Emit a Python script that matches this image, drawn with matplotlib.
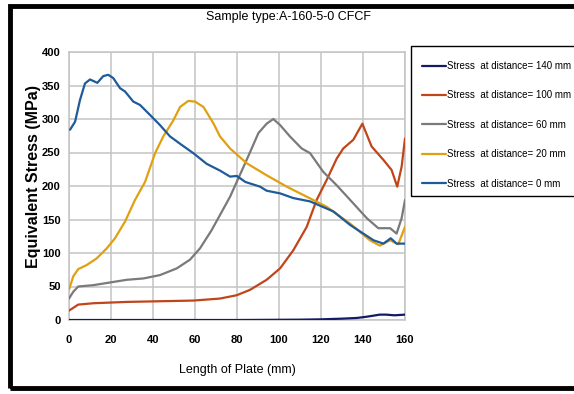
import matplotlib
matplotlib.use('Agg')
import matplotlib.pyplot as plt
from matplotlib.patches import Rectangle

SANS = ['Liberation Sans', 'DejaVu Sans']

# stress along the plate length (mm -> MPa), one series per distance
x_0 = [0.5, 2.9, 5.2, 7.6, 10, 13.5, 16.3, 18.7, 21.1, 24.3, 26.7, 30.6, 33.8,
       38.6, 43.3, 48.1, 52.9, 59.2, 65.6, 71.9, 76.7, 79.9, 84, 91, 94.1,
       100.5, 106.8, 114.8, 125.9, 133.8, 145, 149.7, 153.2, 156, 160]
s_0 = [284, 296, 328, 353, 359, 354, 364, 366, 361, 346, 341, 326, 321,
       306, 291, 274, 263, 249, 233, 223, 214, 215, 206, 199, 193,
       189, 182, 177, 162, 142, 119, 114, 122, 114, 114]

x_20 = [0.1, 2, 4.4, 8.4, 13.2, 18, 21.9, 26.7, 31.4, 36.2, 41, 44.9, 49.7,
        52.9, 56.8, 60, 64, 68.7, 71.9, 76.7, 84.6, 94.1, 103.7, 113.2,
        122.7, 133.8, 143.3, 148, 152.9, 156.8, 160]
s_20 = [46, 65, 76, 82, 92, 107, 122, 147, 179, 206, 249, 274, 298,
        318, 327, 326, 318, 294, 274, 256, 234, 216, 199, 184,
        169, 144, 119, 111, 119, 113, 139]

x_60 = [0, 2, 4.4, 11.6, 19.5, 27.5, 35.4, 43.3, 51.3, 57.6, 62.4, 67.9,
        76.7, 84.6, 90.2, 94.1, 97.3, 100.5, 105.2, 110.8, 114.8, 121.1,
        127.5, 135.4, 141.8, 147.3, 152.9, 156, 158.4, 160]
s_60 = [32, 42, 50, 52, 56, 60, 62, 67, 77, 90, 107, 134,
        184, 239, 279, 293, 300, 291, 274, 256, 249, 221,
        201, 174, 152, 137, 137, 129, 152, 179]

x_100 = [0, 4.4, 11.6, 27.5, 43.3, 59.2, 71.9, 79.9, 86.2, 94.1, 100.5,
         106.8, 113.2, 117.9, 122.7, 127.5, 130.6, 135.4, 139.7, 144.1,
         149.7, 153.6, 156.3, 158.4, 160]
s_100 = [14, 23, 25, 27, 28, 29, 32, 37, 45, 60, 77,
         104, 139, 179, 209, 241, 256, 269, 293, 259,
         239, 224, 199, 229, 271]

x_140 = [0, 40, 80, 110, 120, 130, 137, 142, 148, 151, 155, 160]
s_140 = [0, 0, 0, 0.5, 1, 2, 3, 5, 8, 8, 7, 8]

series = [
    (x_140, s_140, 'Stress  at distance= 140 mm', '#141a66'),
    (x_100, s_100, 'Stress  at distance= 100 mm', '#c0461a'),
    (x_60, s_60, 'Stress  at distance= 60 mm', '#7a7a7a'),
    (x_20, s_20, 'Stress  at distance= 20 mm', '#e0a010'),
    (x_0, s_0, 'Stress  at distance= 0 mm', '#1f5b99'),
]

W, H = 574, 394
fig = plt.figure(figsize=(W / 100, H / 100), dpi=100)
ax = fig.add_axes([69 / W, 1 - 320 / H, 336 / W, 268 / H])

for xs, ys, label, color in series:
    ax.plot(xs, ys, color=color, linewidth=1.6, label=label,
            solid_capstyle='round', zorder=3)

ax.set_xlim(0, 160)
ax.set_ylim(0, 400)
ax.set_xticks(range(0, 161, 20))
ax.set_yticks(range(0, 401, 50))
ax.grid(True, color='#c4c4c4', linewidth=1.1)
ax.set_axisbelow(True)
for sp in ax.spines.values():
    sp.set_color('#c4c4c4')
    sp.set_linewidth(1.1)
ax.tick_params(axis='x', length=0, pad=11)
ax.tick_params(axis='y', length=0, pad=6)
for lab in ax.get_xticklabels() + ax.get_yticklabels():
    lab.set_family(SANS)
    lab.set_fontweight('bold')
    lab.set_fontsize(8)

ax.set_xlabel('Length of Plate (mm)', family=SANS, fontsize=9)
ax.xaxis.set_label_coords(0.5, -0.165)
ax.set_ylabel('Equivalent Stress (MPa)', family=SANS, fontsize=11.5,
              fontweight='bold')
ax.yaxis.set_label_coords(-0.083, 0.537)

fig.text(0.502, 1 - 17 / H, 'Sample type:A-160-5-0 CFCF', family=SANS,
         fontsize=9, ha='center', va='center')

leg = ax.legend(loc='upper left', bbox_to_anchor=(422 / W, 1 - 61 / H),
                bbox_transform=fig.transFigure,
                prop={'family': SANS, 'size': 7.0},
                frameon=False, handlelength=2.5, handletextpad=0.1,
                labelspacing=2.0, borderpad=0, borderaxespad=0)

# legend box drawn separately so it can run past the right edge
fig.patches.append(Rectangle((411 / W, 1 - 196 / H), 200 / W, 150 / H,
                             transform=fig.transFigure, fill=False,
                             edgecolor='black', linewidth=1.0))

# thick outer border, right side runs off the canvas
fig.patches.append(Rectangle((10 / W, 6 / H), 1.2, 1 - 12 / H,
                             transform=fig.transFigure, fill=False,
                             edgecolor='black', linewidth=3.5))

fig.savefig('out.png', dpi=100)
